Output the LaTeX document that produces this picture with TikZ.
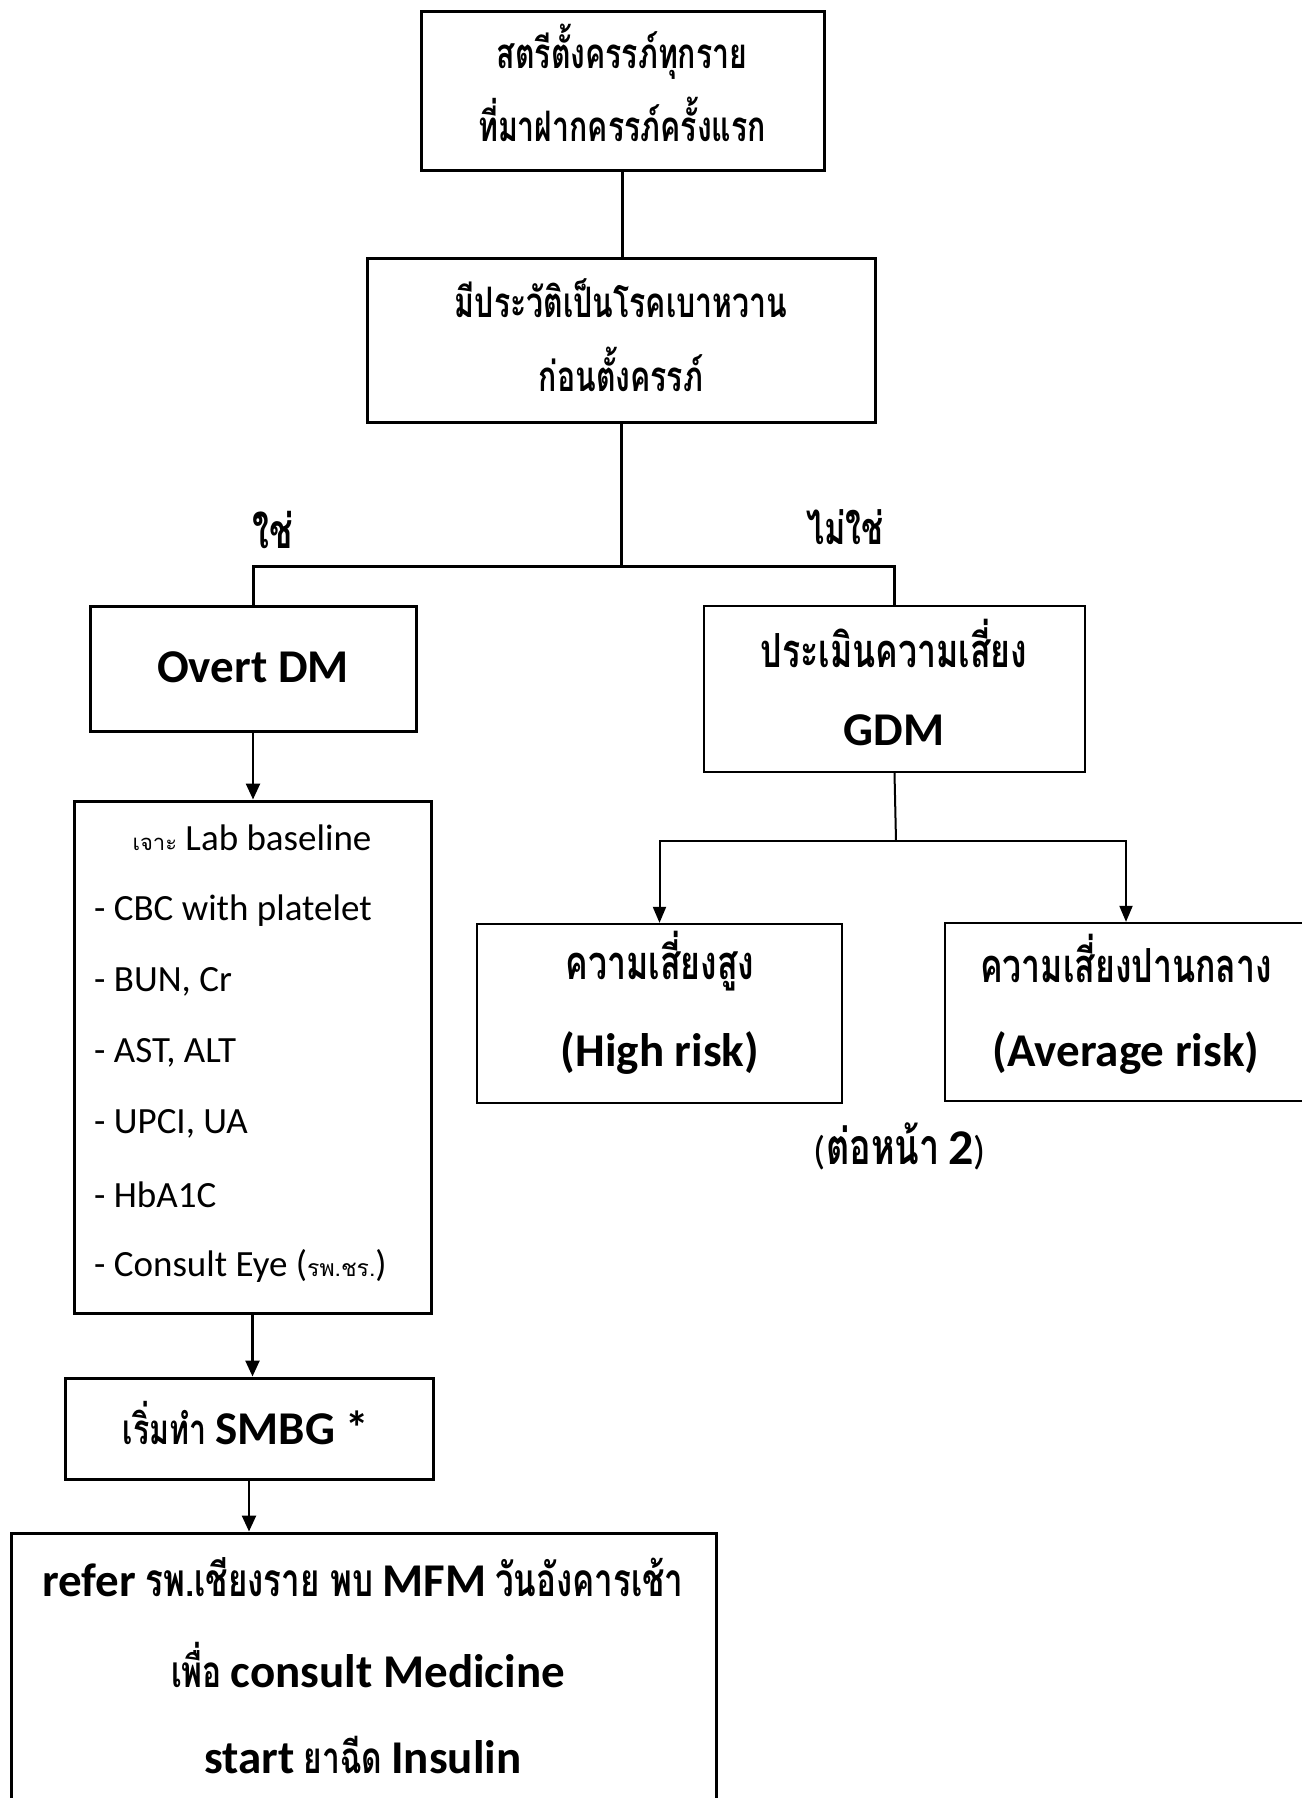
\documentclass[tikz,border=0pt]{standalone}
\usepackage{fontspec}
\setmainfont{Carlito}
\newfontfamily\thai[Script=Thai, FakeStretch=0.72]{Loma}
\newfontfamily\thair[Script=Thai]{Loma}
\usetikzlibrary{arrows.meta}
\tikzset{
  box/.style={draw, line width=3pt, inner sep=0pt},
  thinbox/.style={draw, line width=2.3pt, inner sep=0pt},
  txt/.style={inner sep=0pt, align=center, font=\fontsize{40}{48}\selectfont},
  conn/.style={line width=3pt},
  thinconn/.style={line width=2pt},
  arr/.style={line width=2.5pt, -{Triangle[width=14pt,length=16pt]}},
  thinarr/.style={line width=2pt, -{Triangle[width=13pt,length=16pt]}},
}
% Thai bold text, size given as optional argument
\newcommand{\thb}[2][42]{{\thai\bfseries\fontsize{#1}{#1}\selectfont #2}}
\newcommand{\blt}[1]{{\bfseries\fontsize{47}{56}\selectfont #1}}
\begin{document}
\begin{tikzpicture}[x=1pt,y=-1pt]
\useasboundingbox (0,0) rectangle (1301,1798);
% boxes
\node[box, minimum width=403pt, minimum height=159pt] (b1) at (622.5,91.5) {};
\node[box, minimum width=508pt, minimum height=164pt] (b2) at (621,340) {};
\node[box, minimum width=326pt, minimum height=125pt] (ov) at (253,668.5) {};
\node[thinbox, minimum width=381pt, minimum height=166pt] (gdm) at (894.5,689) {};
\node[box, minimum width=357pt, minimum height=512pt] (lab) at (252.5,1057) {};
\node[box, minimum width=368pt, minimum height=101pt] (smbg) at (249,1428.5) {};
\node[box, minimum width=705pt, minimum height=280pt] (fin) at (363.5,1673) {};
\node[thinbox, minimum width=365pt, minimum height=179pt] (hr) at (659.5,1013.5) {};
\node[thinbox, minimum width=362pt, minimum height=178pt] (av) at (1126,1012) {};
% junctions
\coordinate (j1) at (621,566);
\coordinate (j2) at (896,841);
% connectors
\draw[conn] (b1.south) -- (b1.south |- b2.north);
\draw[conn] (b2.south) -- (j1);
\draw[conn] (ov.north) |- (j1) -| (gdm.north);
\draw[arr] (ov.south) -- (ov.south |- lab.north);
\draw[arr] (lab.south) -- (lab.south |- smbg.north);
\draw[arr] (smbg.south) -- (smbg.south |- fin.north);
\draw[thinconn] (gdm.south) -- (j2);
\draw[thinarr] (j2) -| (hr.north);
\draw[thinarr] (j2) -| (av.north);
% texts
\node[txt] (t1a) at (622,52) {\thb{สตรีตั้งครรภ์ทุกราย}};
\node[txt] (t1b) at (622,119) {\thb{ที่มาฝากครรภ์ครั้งแรก}};
\node[txt] (t2a) at (621,298) {\thb{มีประวัติเป็นโรคเบาหวาน}};
\node[txt] (t2b) at (621,369) {\thb{ก่อนตั้งครรภ์}};
\node[txt] (lyes) at (273,530) {\thb[48]{ใช่}};
\node[txt] (lno) at (845,527) {\thb[45]{ไม่ใช่}};
\node[txt] (ovt) at (253,667) {\blt{Overt DM}};
\node[txt] (g1) at (894,643) {\thb[47]{ประเมินความเสี่ยง}};
\node[txt] (g2) at (894,730) {\blt{GDM}};
\node[txt] (hr1) at (660,961) {\thb[47]{ความเสี่ยงสูง}};
\node[txt] (hr2) at (660,1053) {\blt{(High risk)}};
\node[txt] (av1) at (1126,958) {\thb[47]{ความเสี่ยงปานกลาง}};
\node[txt] (av2) at (1126,1053) {\blt{(Average risk)}};
\node[txt] (cont) at (900,1146) {(\thb[50]{ต่อหน้า} \textbf{\fontsize{50}{52}\selectfont 2})};
% lab box
\node[txt] (l0) at (252,838) {\fontsize{37}{42}\selectfont{\thair\fontsize{22}{26}\selectfont เจาะ} Lab baseline};
\node[txt, anchor=west] (l1) at (94,911) {\fontsize{37}{42}\selectfont - CBC with platelet};
\node[txt, anchor=west] (l2) at (94,982) {\fontsize{37}{42}\selectfont - BUN, Cr};
\node[txt, anchor=west] (l3) at (94,1053) {\fontsize{37}{42}\selectfont - AST, ALT};
\node[txt, anchor=west] (l4) at (94,1124) {\fontsize{37}{42}\selectfont - UPCI, UA};
\node[txt, anchor=west] (l5) at (94,1195) {\fontsize{37}{42}\selectfont - HbA1C};
\node[txt, anchor=west] (l6) at (94,1266) {\fontsize{37}{42}\selectfont - Consult Eye ({\thair\fontsize{23}{26}\selectfont รพ.ชร.})};
% smbg
\node[txt] (st) at (246,1423) {\thb{เริ่มทำ} \blt{SMBG *}};
% final
\node[txt] (f1) at (363,1577) {\blt{refer} \thb[46]{รพ.เชียงราย พบ} \blt{MFM} \thb[46]{วันอังคารเช้า}};
\node[txt] (f2) at (368,1665) {\thb[44]{เพื่อ} \blt{consult Medicine}};
\node[txt] (f3) at (363,1755) {\blt{start} \thb[44]{ยาฉีด} \blt{Insulin}};
\end{tikzpicture}
\end{document}
